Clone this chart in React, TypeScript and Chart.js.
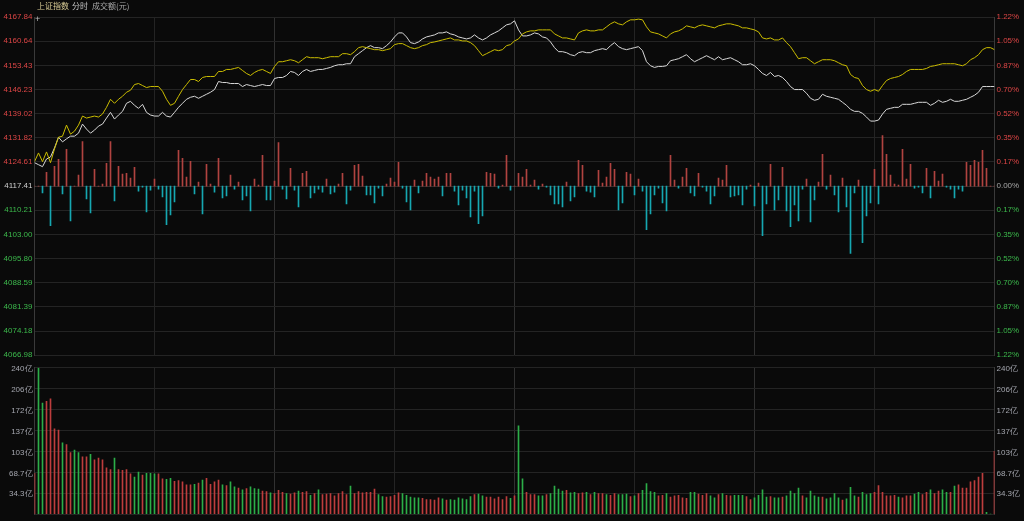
import { useEffect, useRef } from 'react';
import { Chart, registerables } from 'chart.js';
Chart.register(...registerables);

const prevClose = 4117.41;
const priceTicks = [4066.98, 4074.18, 4081.39, 4088.59, 4095.80, 4103.00, 4110.21, 4117.41, 4124.61, 4131.82, 4139.02, 4146.23, 4153.43, 4160.64, 4167.84];
const priceTickLabels = ['4066.98', '4074.18', '4081.39', '4088.59', '4095.80', '4103.00', '4110.21', '4117.41', '4124.61', '4131.82', '4139.02', '4146.23', '4153.43', '4160.64', '4167.84'];
const pctTickLabels = ['1.22%', '1.05%', '0.87%', '0.70%', '0.52%', '0.35%', '0.17%', '0.00%', '0.17%', '0.35%', '0.52%', '0.70%', '0.87%', '1.05%', '1.22%'];
const timeGrid = [0, 30, 60, 90, 120, 150, 180, 210, 240];

const whiteLine = [
  4124.4, 4123.8, 4123.2, 4125.5, 4126.1, 4128.8, 4132.0, 4130.6, 4131.5, 4132.3,
  4132.3, 4133.2, 4135.9, 4134.4, 4133.2, 4134.1, 4135.3, 4135.9, 4137.7, 4139.4,
  4137.4, 4138.6, 4139.7, 4142.1, 4142.7, 4141.5, 4140.6, 4141.8, 4139.4, 4138.6,
  4138.3, 4138.3, 4139.4, 4138.3, 4138.0, 4139.4, 4140.9, 4142.1, 4143.3, 4143.9,
  4144.2, 4143.6, 4144.2, 4144.8, 4145.4, 4146.2, 4148.6, 4148.3, 4148.3, 4148.0,
  4148.0, 4148.0, 4147.1, 4147.7, 4147.4, 4147.1, 4147.4, 4147.7, 4147.4, 4147.4,
  4149.5, 4149.8, 4149.8, 4150.4, 4151.6, 4151.3, 4150.4, 4151.6, 4152.2, 4151.6,
  4151.9, 4152.2, 4152.2, 4152.5, 4152.8, 4153.3, 4153.6, 4153.6, 4153.9, 4153.9,
  4156.0, 4156.9, 4157.8, 4158.7, 4159.3, 4158.7, 4158.7, 4158.4, 4159.3, 4160.4,
  4161.9, 4163.1, 4163.1, 4161.9, 4160.2, 4159.9, 4160.4, 4161.3, 4161.9, 4162.2,
  4162.5, 4163.1, 4163.1, 4163.4, 4162.8, 4162.5, 4161.9, 4161.6, 4161.3, 4161.6,
  4162.5, 4161.6, 4161.0, 4161.6, 4162.5, 4163.1, 4163.7, 4164.6, 4165.5, 4165.8,
  4166.7, 4164.0, 4162.2, 4162.2, 4162.5, 4163.1, 4162.8, 4161.9, 4161.6, 4160.4,
  4158.7, 4157.5, 4157.5, 4157.2, 4156.6, 4156.3, 4157.2, 4157.5, 4157.2, 4157.2,
  4157.8, 4158.1, 4158.4, 4158.1, 4159.3, 4160.2, 4159.0, 4158.4, 4158.1, 4158.4,
  4158.7, 4159.0, 4157.8, 4154.5, 4153.3, 4152.8, 4153.1, 4153.1, 4153.3, 4154.8,
  4155.1, 4155.4, 4156.0, 4156.6, 4155.4, 4154.5, 4155.1, 4155.7, 4156.3, 4155.7,
  4155.1, 4156.0, 4155.1, 4155.4, 4155.7, 4155.1, 4154.5, 4153.6, 4153.6, 4153.9,
  4153.3, 4152.2, 4151.0, 4150.4, 4151.3, 4150.1, 4150.4, 4149.8, 4148.6, 4147.1,
  4146.2, 4146.2, 4146.2, 4145.1, 4143.6, 4143.0, 4143.3, 4144.8, 4144.2, 4143.9,
  4143.6, 4143.3, 4142.4, 4141.5, 4140.3, 4139.7, 4139.7, 4139.1, 4138.0, 4136.8,
  4136.8, 4137.1, 4138.9, 4140.3, 4140.6, 4140.9, 4140.9, 4141.8, 4141.8, 4141.8,
  4142.1, 4142.4, 4142.4, 4142.4, 4141.5, 4142.1, 4143.0, 4142.4, 4142.7, 4143.3,
  4142.7, 4142.7, 4143.0, 4143.3, 4143.9, 4144.5, 4145.4, 4147.1, 4147.1, 4147.1,
  4147.1,
];

const yellowLine = [
  4124.7, 4127.3, 4124.7, 4127.6, 4124.4, 4128.5, 4132.0, 4132.3, 4135.6, 4132.9,
  4133.8, 4135.6, 4138.3, 4137.7, 4138.0, 4138.3, 4138.0, 4138.9, 4140.9, 4143.3,
  4142.1, 4143.3, 4144.2, 4145.4, 4146.0, 4147.7, 4148.0, 4147.4, 4146.8, 4147.1,
  4147.1, 4147.1, 4145.7, 4143.3, 4141.5, 4142.1, 4144.2, 4146.2, 4147.7, 4149.2,
  4149.2, 4148.6, 4149.8, 4150.1, 4150.1, 4150.1, 4151.6, 4151.6, 4152.2, 4152.2,
  4152.5, 4152.8, 4151.9, 4151.0, 4150.4, 4151.3, 4151.9, 4152.2, 4151.6, 4151.0,
  4153.1, 4154.5, 4154.5, 4154.8, 4155.1, 4154.8, 4154.2, 4155.1, 4156.0, 4155.7,
  4155.7, 4155.7, 4155.4, 4155.7, 4156.0, 4156.0, 4156.0, 4156.9, 4156.9, 4156.6,
  4157.5, 4158.7, 4159.0, 4158.7, 4158.4, 4158.1, 4158.1, 4157.8, 4158.1, 4158.4,
  4159.6, 4159.9, 4159.9, 4159.3, 4158.7, 4158.4, 4158.7, 4159.3, 4159.6, 4160.2,
  4160.4, 4160.7, 4161.0, 4161.3, 4161.6, 4161.0, 4161.0, 4160.7, 4160.7, 4160.2,
  4159.3, 4157.8, 4156.3, 4156.9, 4157.5, 4158.1, 4157.8, 4158.1, 4159.3, 4159.6,
  4160.7, 4161.3, 4162.8, 4163.4, 4163.7, 4163.7, 4164.0, 4164.0, 4164.0, 4164.0,
  4162.8, 4162.2, 4161.6, 4161.6, 4161.3, 4161.0, 4163.1, 4163.7, 4164.0, 4163.7,
  4163.7, 4164.0, 4164.0, 4164.9, 4165.8, 4166.4, 4165.8, 4165.5, 4166.4, 4167.0,
  4167.0, 4167.2, 4167.0, 4164.9, 4163.4, 4163.1, 4162.8, 4162.2, 4161.6, 4162.8,
  4163.4, 4163.7, 4164.3, 4165.2, 4164.9, 4164.6, 4165.2, 4165.5, 4165.2, 4164.9,
  4164.6, 4165.2, 4165.5, 4165.8, 4165.8, 4165.5, 4165.2, 4164.6, 4164.6, 4164.3,
  4164.0, 4163.4, 4161.6, 4161.3, 4161.6, 4161.0, 4161.0, 4161.6, 4160.2, 4159.0,
  4157.2, 4155.4, 4155.7, 4155.7, 4154.8, 4153.9, 4154.5, 4155.1, 4155.1, 4155.1,
  4154.8, 4154.2, 4153.6, 4153.3, 4150.7, 4149.8, 4149.5, 4147.4, 4146.2, 4145.7,
  4146.2, 4145.7, 4147.4, 4148.9, 4149.5, 4149.8, 4150.1, 4150.7, 4151.6, 4152.2,
  4152.2, 4152.2, 4152.2, 4152.5, 4153.1, 4153.3, 4153.6, 4153.9, 4153.9, 4153.9,
  4153.9, 4153.6, 4153.3, 4153.9, 4155.1, 4155.7, 4156.6, 4158.1, 4158.7, 4158.7,
  4158.1,
];

const strength = [
  0, 0, -7, 14, -40, 20, 27, -8, 37, -35,
  0, 11, 45, -13, -27, 17, 0, 2, 23, 45,
  -15, 20, 12, 13, 8, 19, -5, -1, -26, -4,
  7, -3, -11, -39, -29, -16, 36, 28, 9, 25,
  -8, 4, -28, 22, 2, -6, 28, -12, -10, 11,
  -3, 4, -14, -10, -25, 7, 1, 31, -14, -14,
  5, 44, -3, -13, 18, -4, -21, 13, 15, -12,
  -7, -3, -6, 7, -8, -6, 2, 13, -18, -4,
  21, 22, 10, -9, -9, -17, -2, -10, 2, 8,
  4, 24, -2, -16, -24, 6, -7, 5, 13, 9,
  7, 9, -10, 13, 13, -5, -19, -4, -12, -31,
  -5, -38, -30, 14, 13, 12, -2, 1, 31, -4,
  0, 13, 9, 17, 1, 6, -3, 2, -1, -9,
  -18, -18, -21, 4, -15, -11, 26, 21, -5, -6,
  -11, 16, 3, 9, 23, 17, -24, -17, 14, 12,
  -9, 7, -5, -44, -28, -9, -2, -17, -25, 31,
  6, -2, 9, 18, -7, -10, 13, -1, -5, -18,
  -10, 8, 6, 21, -11, -10, -9, -19, -3, 1,
  -20, 3, -50, -18, 22, -24, -14, 19, -25, -41,
  -19, -35, -3, 7, -36, -14, 4, 32, -3, 11,
  -9, -26, 8, -21, -68, -7, 6, -57, -30, -17,
  17, -18, 51, 32, 11, 2, 1, 37, 7, 22,
  -2, -1, -7, 18, -12, 15, 5, 12, -1, -3,
  -12, -3, -5, 24, 21, 26, 24, 36, 18, 0,
  0,
];

// 成交额 (亿元) per minute
const volume = [
  67, 240, 182, 185, 189, 140, 138, 117, 114, 101,
  105, 101, 94, 94, 98, 89, 92, 89, 76, 73,
  92, 73, 72, 73, 66, 61, 69, 64, 67, 67,
  66, 66, 58, 57, 59, 54, 55, 53, 48, 48,
  49, 51, 56, 59, 49, 53, 56, 48, 47, 53,
  45, 43, 40, 42, 45, 42, 41, 38, 37, 35,
  34, 39, 36, 34, 33, 35, 38, 36, 37, 31,
  34, 40, 32, 33, 34, 30, 34, 37, 32, 46,
  34, 37, 35, 36, 36, 41, 32, 29, 28, 29,
  31, 35, 34, 31, 28, 27, 27, 26, 24, 24,
  23, 27, 25, 23, 24, 23, 27, 25, 24, 29,
  32, 33, 30, 28, 28, 25, 28, 24, 29, 26,
  30, 145, 58, 36, 32, 32, 30, 30, 32, 34,
  46, 41, 38, 39, 35, 36, 34, 35, 36, 32,
  36, 34, 34, 32, 31, 34, 32, 32, 33, 29,
  30, 34, 39, 50, 37, 36, 30, 31, 34, 28,
  30, 31, 27, 26, 36, 36, 33, 31, 34, 30,
  27, 32, 34, 31, 30, 31, 31, 31, 29, 24,
  27, 31, 40, 28, 29, 27, 27, 28, 30, 38,
  34, 43, 30, 27, 38, 30, 28, 28, 25, 27,
  34, 27, 23, 25, 44, 30, 28, 36, 32, 34,
  36, 47, 36, 30, 30, 31, 28, 27, 30, 30,
  33, 36, 32, 36, 40, 34, 38, 40, 36, 36,
  46, 48, 43, 43, 53, 55, 61, 67, 3, 0,
  103,
];

// 1 = up minute (red), 0 = down minute (green)
const volumeUp = [
  1, 0, 0, 1, 1, 1, 1, 0, 1, 1,
  0, 0, 1, 1, 0, 1, 1, 1, 1, 1,
  0, 1, 1, 1, 1, 0, 0, 1, 0, 0,
  0, 1, 1, 0, 0, 1, 1, 1, 1, 1,
  0, 1, 0, 1, 1, 1, 1, 0, 1, 0,
  0, 1, 0, 1, 0, 0, 0, 1, 1, 0,
  1, 1, 1, 0, 1, 1, 0, 1, 1, 0,
  1, 0, 1, 1, 1, 1, 1, 1, 1, 0,
  1, 1, 1, 1, 1, 1, 0, 0, 1, 1,
  1, 1, 0, 0, 0, 0, 0, 1, 1, 1,
  1, 1, 0, 1, 0, 0, 0, 0, 0, 0,
  1, 0, 0, 1, 1, 1, 1, 1, 1, 0,
  1, 0, 0, 1, 1, 1, 0, 0, 1, 0,
  0, 0, 0, 1, 0, 0, 1, 1, 0, 1,
  0, 1, 1, 0, 1, 1, 0, 0, 0, 1,
  0, 1, 0, 0, 0, 0, 1, 1, 0, 1,
  1, 1, 1, 1, 0, 0, 1, 1, 1, 0,
  0, 1, 0, 1, 1, 0, 0, 0, 1, 1,
  0, 0, 0, 0, 1, 0, 0, 1, 0, 0,
  0, 0, 1, 0, 0, 0, 0, 1, 0, 0,
  0, 0, 1, 0, 0, 0, 1, 0, 0, 0,
  1, 1, 1, 1, 1, 1, 0, 1, 1, 1,
  0, 0, 1, 1, 0, 1, 1, 0, 0, 1,
  0, 1, 1, 1, 1, 1, 1, 1, 0, 0,
  1,
];

const volTicks = [0, 240 / 7, 480 / 7, 720 / 7, 960 / 7, 1200 / 7, 1440 / 7, 240];
const volTickLabels = ['', '34.3亿', '68.7亿', '103亿', '137亿', '172亿', '206亿', '240亿'];

const BG = '#0a0a0a';
const GRID = '#242424';
const GRID_HOUR = '#313131';
const AXIS = '#3a3a3a';
const RED_TXT = '#dd4646';
const GREEN_TXT = '#3cb94c';
const MID_TXT = '#cfcfcf';
const VOL_TXT = '#a4a6ae';
const FONT = { family: '"Liberation Sans", Arial, sans-serif', size: 8 };

const LEFT_W = 34.5;
const RIGHT_W = 29.5;

function xGridColor(ctx: any) {
  const v = ctx.tick ? ctx.tick.value : 0;
  if (v === 0 || v === 240) return AXIS;
  return v % 60 === 0 ? GRID_HOUR : GRID;
}

export default function App() {
  const mainRef = useRef<HTMLCanvasElement | null>(null);
  const volRef = useRef<HTMLCanvasElement | null>(null);

  useEffect(() => {
    document.body.style.margin = '0';
    document.body.style.background = BG;
    const pMin = priceTicks[0];
    const pMax = priceTicks[priceTicks.length - 1];
    const labelColor = (ctx: any) => {
      const i = ctx.index;
      if (i === 7) return MID_TXT;
      return i > 7 ? RED_TXT : GREEN_TXT;
    };
    const xScale: any = {
      type: 'linear',
      min: 0,
      max: 240,
      offset: false,
      afterBuildTicks: (s: any) => {
        s.ticks = timeGrid.map((v) => ({ value: v }));
      },
      afterFit: (s: any) => {
        s.height = 0;
      },
      ticks: { display: false },
      grid: { color: xGridColor, drawTicks: false, lineWidth: 1, offset: false },
      border: { display: false },
    };

    const main = new Chart(mainRef.current as HTMLCanvasElement, {
      type: 'line',
      data: {
        datasets: [
          {
            type: 'line',
            label: 'white',
            data: whiteLine.map((v, i) => ({ x: i, y: v })),
            borderColor: '#d8d8d8',
            borderWidth: 1,
            pointRadius: 0,
            tension: 0,
            yAxisID: 'y',
            order: 1,
          },
          {
            type: 'line',
            label: 'yellow',
            data: yellowLine.map((v, i) => ({ x: i, y: v })),
            borderColor: '#cbbd00',
            borderWidth: 1,
            pointRadius: 0,
            tension: 0,
            yAxisID: 'y',
            order: 0,
          },
          {
            type: 'bar',
            label: 'strength',
            data: strength.map((v, i) => ({ x: i, y: v })),
            backgroundColor: strength.map((v) => (v >= 0 ? '#b04340' : '#16a7b1')),
            barThickness: 1,
            grouped: false,
            yAxisID: 'yInd',
            order: 2,
          } as any,
        ],
      },
      options: {
        animation: false,
        responsive: false,
        layout: { padding: { top: 17, bottom: 4, left: 0, right: 0 } },
        plugins: { legend: { display: false }, tooltip: { enabled: false } },
        scales: {
          x: xScale,
          y: {
            type: 'linear',
            position: 'left',
            min: pMin,
            max: pMax,
            afterBuildTicks: (s: any) => {
              s.ticks = priceTicks.map((v) => ({ value: v }));
            },
            afterFit: (s: any) => {
              s.width = LEFT_W;
            },
            ticks: {
              callback: (_v: any, i: number) => priceTickLabels[i],
              color: labelColor,
              font: FONT,
              padding: 2,
              autoSkip: false,
            },
            grid: {
              color: (ctx: any) => (ctx.tick && ctx.tick.value === prevClose ? '#2e2e2e' : GRID),
              drawTicks: false,
            },
            border: { color: AXIS },
          },
          yR: {
            type: 'linear',
            position: 'right',
            min: pMin,
            max: pMax,
            afterBuildTicks: (s: any) => {
              s.ticks = priceTicks.map((v) => ({ value: v }));
            },
            afterFit: (s: any) => {
              s.width = RIGHT_W;
            },
            ticks: {
              callback: (_v: any, i: number) => pctTickLabels[i],
              color: (ctx: any) => (ctx.index === 7 ? '#a8a8a8' : ctx.index > 7 ? RED_TXT : GREEN_TXT),
              font: FONT,
              padding: 2,
              autoSkip: false,
            },
            grid: { display: false, drawTicks: false },
            border: { color: AXIS },
          },
          yInd: { type: 'linear', display: false, min: -170.5, max: 170.5 },
        },
      } as any,
    });

    const vol = new Chart(volRef.current as HTMLCanvasElement, {
      type: 'bar',
      data: {
        datasets: [
          {
            label: '成交额',
            data: volume.map((v, i) => ({ x: i, y: v })),
            backgroundColor: volumeUp.map((u) => (u ? '#bd3d3d' : '#2cae48')),
            barThickness: 1,
            grouped: false,
          } as any,
        ],
      },
      options: {
        animation: false,
        responsive: false,
        layout: { padding: { top: 4, bottom: 3, left: 0, right: 0 } },
        plugins: { legend: { display: false }, tooltip: { enabled: false } },
        scales: {
          x: xScale,
          y: {
            type: 'linear',
            position: 'left',
            min: 0,
            max: 240,
            afterBuildTicks: (s: any) => {
              s.ticks = volTicks.map((v) => ({ value: v }));
            },
            afterFit: (s: any) => {
              s.width = LEFT_W;
            },
            ticks: {
              callback: (_v: any, i: number) => volTickLabels[i],
              color: VOL_TXT,
              font: FONT,
              padding: 2,
              labelOffset: 1,
              autoSkip: false,
            },
            grid: { color: GRID, drawTicks: false },
            border: { color: AXIS },
          },
          yR: {
            type: 'linear',
            position: 'right',
            min: 0,
            max: 240,
            afterBuildTicks: (s: any) => {
              s.ticks = volTicks.map((v) => ({ value: v }));
            },
            afterFit: (s: any) => {
              s.width = RIGHT_W;
            },
            ticks: {
              callback: (_v: any, i: number) => volTickLabels[i],
              color: VOL_TXT,
              font: FONT,
              padding: 2,
              labelOffset: 1,
              autoSkip: false,
            },
            grid: { display: false, drawTicks: false },
            border: { color: AXIS },
          },
        },
      } as any,
    });

    return () => {
      main.destroy();
      vol.destroy();
    };
  }, []);

  const txt = { position: 'absolute' as const, top: 1, fontSize: 8, lineHeight: '10px', fontFamily: '"Noto Sans CJK SC", "Noto Sans", sans-serif', whiteSpace: 'nowrap' as const };

  return (
    <div style={{ position: 'fixed', left: 0, top: 0, width: 1024, height: 521, background: BG, overflow: 'hidden' }}>
      <canvas ref={mainRef} width={1024} height={362} style={{ position: 'absolute', left: 0, top: 0, display: 'block' }} />
      <canvas ref={volRef} width={1024} height={160} style={{ position: 'absolute', left: 0, top: 361, display: 'block' }} />
      <div style={{ ...txt, left: 37, color: '#d9cc96' }}>上证指数</div>
      <div style={{ ...txt, left: 72, color: '#c4c4c4' }}>分时</div>
      <div style={{ ...txt, left: 92, color: '#a8a8a8' }}>成交额(元)</div>
      <div style={{ position: 'absolute', left: 35, top: 16, width: 7, height: 7, fontSize: 9, lineHeight: '7px', color: '#bbbbbb', fontFamily: 'Arial, sans-serif' }}>+</div>
    </div>
  );
}
